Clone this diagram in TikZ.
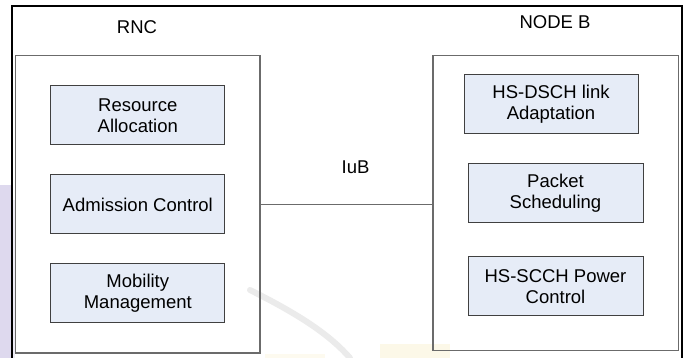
\documentclass[tikz,border=0pt]{standalone}
\usepackage{fontspec}
\setmainfont{Liberation Sans}
\begin{document}
\begin{tikzpicture}[x=1pt,y=-1pt,
  every node/.style={font=\fontsize{18.5}{21}\selectfont, inner sep=0pt},
  fbox/.style={draw=black!75, line width=1pt, fill=boxfill, minimum width=174pt, minimum height=59pt, align=center},
  grp/.style={draw=black!58, line width=1.3pt},
  lbl/.style={text=black}
]
\definecolor{boxfill}{HTML}{E6ECF7}
\definecolor{wmlav}{HTML}{D6D0EA}
\definecolor{wmyel}{HTML}{FBF3D2}
\clip (0,0) rectangle (686,358);
\fill[white] (0,0) rectangle (686,358);
% faint watermark
\fill[wmlav, opacity=0.8] (0,185) rectangle (11,358);
\fill[wmlav, opacity=0.4] (11,200) rectangle (15,358);
\draw[black!8, line width=6pt, line cap=round] (250,290) .. controls (300,315) and (330,335) .. (350,358);
\fill[wmyel, opacity=0.5] (380,344) rectangle (450,358);
\fill[wmyel, opacity=0.35] (265,354) rectangle (325,358);
% outer frame
\draw[black, line width=2.2pt] (12,372) -- (12,6) -- (682,6) -- (682,372);
% group boxes
\node[grp, minimum width=244.3pt, minimum height=297.3pt] (rnc) at (137.8,204.3) {};
\node[grp, minimum width=245.7pt, minimum height=295pt] (nodeb) at (555.8,203.2) {};
% labels
\node[lbl] (rnclbl) at (137,27) {RNC};
\node[lbl] (nodeblbl) at (555,22) {NODE B};
\node[lbl] (iub) at (355.5,167) {IuB};
% RNC functions
\node[fbox, minimum width=174.3pt, minimum height=59.3pt] (ra) at (137.8,115.3) {Resource\\Allocation};
\node[fbox, minimum width=174.3pt] (ac) at (137.8,204.5) {Admission Control};
\node[fbox, minimum width=174.3pt] (mm) at (137.8,293.5) {Mobility\\Management};
% Node B functions
\node[fbox] (hsdsch) at (551,104.5) {HS-DSCH link\\Adaptation};
\node[fbox, minimum width=175pt] (ps) at (555.5,193.5) {Packet\\Scheduling};
\node[fbox, minimum width=175pt] (hsscch) at (555.5,286.5) {HS-SCCH Power\\Control};
% IuB link
\draw[black!58, line width=1.3pt] (rnc.east |- 0,204.5) coordinate (l1) -- (nodeb.west |- l1);
\end{tikzpicture}
\end{document}
